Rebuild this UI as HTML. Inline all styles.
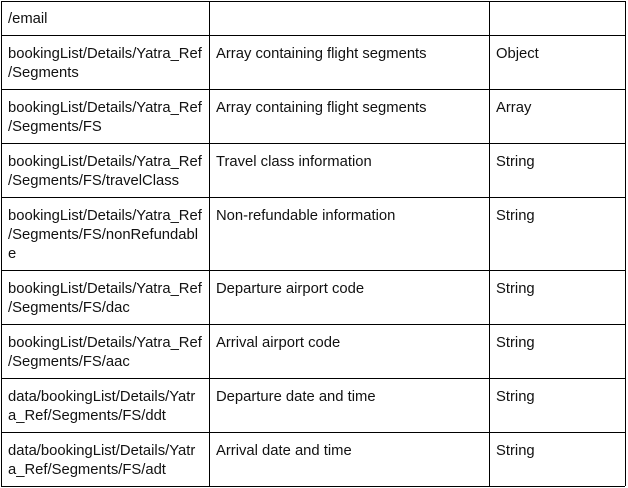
<!DOCTYPE html>
<html><head><style>
body{margin:0;width:628px;height:488px;background:#fff;position:relative;overflow:hidden;font-family:"Liberation Sans",sans-serif;font-size:14.8px;color:#111}
.h{position:absolute;left:1px;width:624px;height:1px;background:#000}
.v{position:absolute;top:1px;height:485px;width:1px;background:#000}
.t{position:absolute;line-height:19px;white-space:pre;margin-top:1px}
</style></head><body>
<div class="h" style="top:1px"></div>
<div class="h" style="top:35px"></div>
<div class="h" style="top:89px"></div>
<div class="h" style="top:143px"></div>
<div class="h" style="top:197px"></div>
<div class="h" style="top:270px"></div>
<div class="h" style="top:324px"></div>
<div class="h" style="top:378px"></div>
<div class="h" style="top:432px"></div>
<div class="h" style="top:486px"></div>
<div class="v" style="left:1px"></div>
<div class="v" style="left:209px"></div>
<div class="v" style="left:489px"></div>
<div class="v" style="left:625px"></div>

<div class="t" style="left:8px;top:9px">/email</div>

<div class="t" style="left:8px;top:44px">bookingList/Details/Yatra_Ref
/Segments</div>
<div class="t" style="left:216px;top:44px">Array containing flight segments</div>
<div class="t" style="left:496px;top:44px">Object</div>

<div class="t" style="left:8px;top:98px">bookingList/Details/Yatra_Ref
/Segments/FS</div>
<div class="t" style="left:216px;top:98px">Array containing flight segments</div>
<div class="t" style="left:496px;top:98px">Array</div>

<div class="t" style="left:8px;top:152px">bookingList/Details/Yatra_Ref
/Segments/FS/travelClass</div>
<div class="t" style="left:216px;top:152px">Travel class information</div>
<div class="t" style="left:496px;top:152px">String</div>

<div class="t" style="left:8px;top:206px">bookingList/Details/Yatra_Ref
/Segments/FS/nonRefundabl
e</div>
<div class="t" style="left:216px;top:206px">Non-refundable information</div>
<div class="t" style="left:496px;top:206px">String</div>

<div class="t" style="left:8px;top:279px">bookingList/Details/Yatra_Ref
/Segments/FS/dac</div>
<div class="t" style="left:216px;top:279px">Departure airport code</div>
<div class="t" style="left:496px;top:279px">String</div>

<div class="t" style="left:8px;top:333px">bookingList/Details/Yatra_Ref
/Segments/FS/aac</div>
<div class="t" style="left:216px;top:333px">Arrival airport code</div>
<div class="t" style="left:496px;top:333px">String</div>

<div class="t" style="left:8px;top:387px">data/bookingList/Details/Yatr
a_Ref/Segments/FS/ddt</div>
<div class="t" style="left:216px;top:387px">Departure date and time</div>
<div class="t" style="left:496px;top:387px">String</div>

<div class="t" style="left:8px;top:441px">data/bookingList/Details/Yatr
a_Ref/Segments/FS/adt</div>
<div class="t" style="left:216px;top:441px">Arrival date and time</div>
<div class="t" style="left:496px;top:441px">String</div>
</body></html>
